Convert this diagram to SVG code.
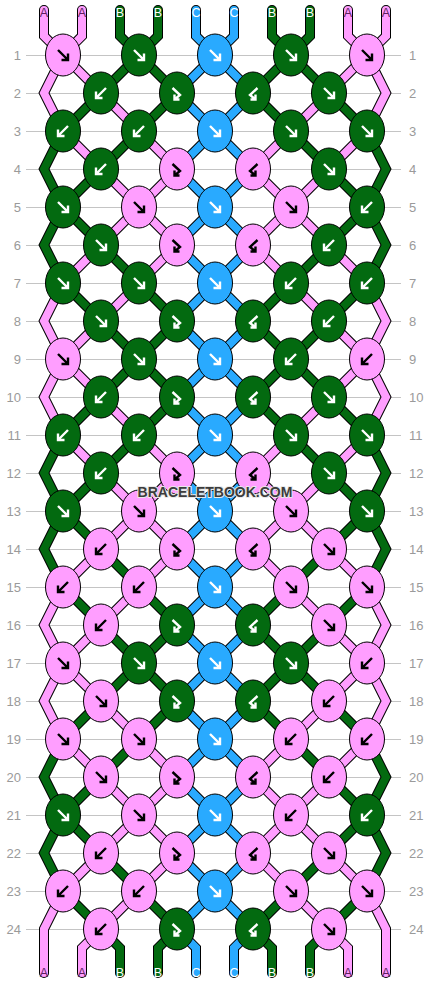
<svg xmlns="http://www.w3.org/2000/svg" xmlns:xlink="http://www.w3.org/1999/xlink" width="430" height="984" viewBox="0 0 430 984">
<style>
.grid line{stroke:#c4c4c4;stroke-width:1;shape-rendering:crispEdges}
.rl{font-family:"Liberation Sans",Arial,sans-serif;font-size:13px;fill:#9a9a9a}
.so{fill:none;stroke:#000;stroke-width:10;stroke-linejoin:miter;stroke-linecap:round}
.sA{fill:none;stroke:#ff9eff;stroke-width:8;stroke-linejoin:miter;stroke-linecap:round}
.sB{fill:none;stroke:#036a10;stroke-width:8;stroke-linejoin:miter;stroke-linecap:round}
.sC{fill:none;stroke:#29aaff;stroke-width:8;stroke-linejoin:miter;stroke-linecap:round}
.knots ellipse{stroke:#000;stroke-width:1}
.A ellipse{fill:#ff9eff}
.B ellipse{fill:#036a10}
.C ellipse{fill:#29aaff}
.A use{stroke:#000}
.B use,.C use{stroke:#fff}
.lab{font-family:"Liberation Sans",Arial,sans-serif;font-size:12.5px;text-anchor:middle}
.lA{fill:#5e1f5e}
.lB,.lC{fill:#fff}
.wm{font-family:"Liberation Sans",Arial,sans-serif;font-size:14px;font-weight:bold;text-anchor:middle;fill:#3c3c3c;stroke:#e8e8e8;stroke-width:2;paint-order:stroke;stroke-linejoin:round}
</style>
<defs>
<path id="f" d="M-5,-5 L4.5,4.5 M5,-1.5 V5 H-1.5" fill="none" stroke-width="2.4"/>
<path id="b" d="M5,-5 L-4.5,4.5 M-5,-1.5 V5 H1.5" fill="none" stroke-width="2.4"/>
<path id="fb" d="M-4.5,-5 L3,2 L-2.5,6.5 M-2.5,1.5 V6.5 H2.5" fill="none" stroke-width="2.4"/>
<path id="bf" d="M4.5,-5 L-3,2 L2.5,6.5 M2.5,1.5 V6.5 H-2.5" fill="none" stroke-width="2.4"/>
<polyline id="p1" points="44,10 44,36 63,55 101,93 139,131 177,169 139,207 101,245 63,283 44,321 63,359 101,397 139,435 177,473 139,511 101,549 63,587 44,625 63,663 101,701 139,739 177,777 139,815 101,853 63,891 44,929 44,973"/>
<polyline id="p2" points="82,10 82,36 63,55 44,93 63,131 101,169 139,207 177,245 139,283 101,321 63,359 44,397 63,435 101,473 139,511 177,549 139,587 101,625 63,663 44,701 63,739 101,777 139,815 177,853 139,891 101,929 82,948 82,973"/>
<polyline id="p3" points="120,10 120,36 139,55 177,93 139,131 101,169 63,207 44,245 63,283 101,321 139,359 177,397 139,435 101,473 63,511 44,549 63,587 101,625 139,663 177,701 139,739 101,777 63,815 44,853 63,891 101,929 120,948 120,973"/>
<polyline id="p4" points="158,10 158,36 139,55 101,93 63,131 44,169 63,207 101,245 139,283 177,321 139,359 101,397 63,435 44,473 63,511 101,549 139,587 177,625 139,663 101,701 63,739 44,777 63,815 101,853 139,891 177,929 158,948 158,973"/>
<polyline id="p5" points="196,10 196,36 215,55 253,93 215,131 177,169 215,207 253,245 215,283 177,321 215,359 253,397 215,435 177,473 215,511 253,549 215,587 177,625 215,663 253,701 215,739 177,777 215,815 253,853 215,891 177,929 196,948 196,973"/>
<polyline id="p6" points="234,10 234,36 215,55 177,93 215,131 253,169 215,207 177,245 215,283 253,321 215,359 177,397 215,435 253,473 215,511 177,549 215,587 253,625 215,663 177,701 215,739 253,777 215,815 177,853 215,891 253,929 234,948 234,973"/>
<polyline id="p7" points="272,10 272,36 291,55 329,93 367,131 386,169 367,207 329,245 291,283 253,321 291,359 329,397 367,435 386,473 367,511 329,549 291,587 253,625 291,663 329,701 367,739 386,777 367,815 329,853 291,891 253,929 272,948 272,973"/>
<polyline id="p8" points="310,10 310,36 291,55 253,93 291,131 329,169 367,207 386,245 367,283 329,321 291,359 253,397 291,435 329,473 367,511 386,549 367,587 329,625 291,663 253,701 291,739 329,777 367,815 386,853 367,891 329,929 310,948 310,973"/>
<polyline id="p9" points="348,10 348,36 367,55 386,93 367,131 329,169 291,207 253,245 291,283 329,321 367,359 386,397 367,435 329,473 291,511 253,549 291,587 329,625 367,663 386,701 367,739 329,777 291,815 253,853 291,891 329,929 348,948 348,973"/>
<polyline id="p10" points="386,10 386,36 367,55 329,93 291,131 253,169 291,207 329,245 367,283 386,321 367,359 329,397 291,435 253,473 291,511 329,549 367,587 386,625 367,663 329,701 291,739 253,777 291,815 329,853 367,891 386,929 386,973"/>
</defs>
<rect width="430" height="984" fill="#fff"/>
<g class="grid">
<line x1="26" x2="401" y1="55" y2="55"/><line x1="26" x2="401" y1="93" y2="93"/><line x1="26" x2="401" y1="131" y2="131"/><line x1="26" x2="401" y1="169" y2="169"/><line x1="26" x2="401" y1="207" y2="207"/><line x1="26" x2="401" y1="245" y2="245"/><line x1="26" x2="401" y1="283" y2="283"/><line x1="26" x2="401" y1="321" y2="321"/><line x1="26" x2="401" y1="359" y2="359"/><line x1="26" x2="401" y1="397" y2="397"/><line x1="26" x2="401" y1="435" y2="435"/><line x1="26" x2="401" y1="473" y2="473"/><line x1="26" x2="401" y1="511" y2="511"/><line x1="26" x2="401" y1="549" y2="549"/><line x1="26" x2="401" y1="587" y2="587"/><line x1="26" x2="401" y1="625" y2="625"/><line x1="26" x2="401" y1="663" y2="663"/><line x1="26" x2="401" y1="701" y2="701"/><line x1="26" x2="401" y1="739" y2="739"/><line x1="26" x2="401" y1="777" y2="777"/><line x1="26" x2="401" y1="815" y2="815"/><line x1="26" x2="401" y1="853" y2="853"/><line x1="26" x2="401" y1="891" y2="891"/><line x1="26" x2="401" y1="929" y2="929"/>
</g>
<g class="rl" id="rowlabels-left" text-anchor="end">
<text x="21" y="59.5">1</text><text x="21" y="97.5">2</text><text x="21" y="135.5">3</text><text x="21" y="173.5">4</text><text x="21" y="211.5">5</text><text x="21" y="249.5">6</text><text x="21" y="287.5">7</text><text x="21" y="325.5">8</text><text x="21" y="363.5">9</text><text x="21" y="401.5">10</text><text x="21" y="439.5">11</text><text x="21" y="477.5">12</text><text x="21" y="515.5">13</text><text x="21" y="553.5">14</text><text x="21" y="591.5">15</text><text x="21" y="629.5">16</text><text x="21" y="667.5">17</text><text x="21" y="705.5">18</text><text x="21" y="743.5">19</text><text x="21" y="781.5">20</text><text x="21" y="819.5">21</text><text x="21" y="857.5">22</text><text x="21" y="895.5">23</text><text x="21" y="933.5">24</text>
</g>
<g class="rl" id="rowlabels-right" text-anchor="start">
<text x="409" y="59.5">1</text><text x="409" y="97.5">2</text><text x="409" y="135.5">3</text><text x="409" y="173.5">4</text><text x="409" y="211.5">5</text><text x="409" y="249.5">6</text><text x="409" y="287.5">7</text><text x="409" y="325.5">8</text><text x="409" y="363.5">9</text><text x="409" y="401.5">10</text><text x="409" y="439.5">11</text><text x="409" y="477.5">12</text><text x="409" y="515.5">13</text><text x="409" y="553.5">14</text><text x="409" y="591.5">15</text><text x="409" y="629.5">16</text><text x="409" y="667.5">17</text><text x="409" y="705.5">18</text><text x="409" y="743.5">19</text><text x="409" y="781.5">20</text><text x="409" y="819.5">21</text><text x="409" y="857.5">22</text><text x="409" y="895.5">23</text><text x="409" y="933.5">24</text>
</g>
<g id="connectors">
<g id="s1"><use href="#p1" class="so"/><use href="#p1" class="sA"/></g>
<g id="s2"><use href="#p2" class="so"/><use href="#p2" class="sA"/></g>
<g id="s3"><use href="#p3" class="so"/><use href="#p3" class="sB"/></g>
<g id="s4"><use href="#p4" class="so"/><use href="#p4" class="sB"/></g>
<g id="s5"><use href="#p5" class="so"/><use href="#p5" class="sC"/></g>
<g id="s6"><use href="#p6" class="so"/><use href="#p6" class="sC"/></g>
<g id="s7"><use href="#p7" class="so"/><use href="#p7" class="sB"/></g>
<g id="s8"><use href="#p8" class="so"/><use href="#p8" class="sB"/></g>
<g id="s9"><use href="#p9" class="so"/><use href="#p9" class="sA"/></g>
<g id="s10"><use href="#p10" class="so"/><use href="#p10" class="sA"/></g>
</g>
<g class="knots">
<g id="k1-1" class="A" transform="translate(63,55)"><ellipse rx="17.5" ry="21"/><use href="#f"/></g>
<g id="k1-2" class="B" transform="translate(139,55)"><ellipse rx="17.5" ry="21"/><use href="#f"/></g>
<g id="k1-3" class="C" transform="translate(215,55)"><ellipse rx="17.5" ry="21"/><use href="#f"/></g>
<g id="k1-4" class="B" transform="translate(291,55)"><ellipse rx="17.5" ry="21"/><use href="#f"/></g>
<g id="k1-5" class="A" transform="translate(367,55)"><ellipse rx="17.5" ry="21"/><use href="#f"/></g>
<g id="k2-1" class="B" transform="translate(101,93)"><ellipse rx="17.5" ry="21"/><use href="#b"/></g>
<g id="k2-2" class="B" transform="translate(177,93)"><ellipse rx="17.5" ry="21"/><use href="#fb"/></g>
<g id="k2-3" class="B" transform="translate(253,93)"><ellipse rx="17.5" ry="21"/><use href="#bf"/></g>
<g id="k2-4" class="B" transform="translate(329,93)"><ellipse rx="17.5" ry="21"/><use href="#f"/></g>
<g id="k3-1" class="B" transform="translate(63,131)"><ellipse rx="17.5" ry="21"/><use href="#b"/></g>
<g id="k3-2" class="B" transform="translate(139,131)"><ellipse rx="17.5" ry="21"/><use href="#b"/></g>
<g id="k3-3" class="C" transform="translate(215,131)"><ellipse rx="17.5" ry="21"/><use href="#f"/></g>
<g id="k3-4" class="B" transform="translate(291,131)"><ellipse rx="17.5" ry="21"/><use href="#f"/></g>
<g id="k3-5" class="B" transform="translate(367,131)"><ellipse rx="17.5" ry="21"/><use href="#f"/></g>
<g id="k4-1" class="B" transform="translate(101,169)"><ellipse rx="17.5" ry="21"/><use href="#b"/></g>
<g id="k4-2" class="A" transform="translate(177,169)"><ellipse rx="17.5" ry="21"/><use href="#fb"/></g>
<g id="k4-3" class="A" transform="translate(253,169)"><ellipse rx="17.5" ry="21"/><use href="#bf"/></g>
<g id="k4-4" class="B" transform="translate(329,169)"><ellipse rx="17.5" ry="21"/><use href="#f"/></g>
<g id="k5-1" class="B" transform="translate(63,207)"><ellipse rx="17.5" ry="21"/><use href="#f"/></g>
<g id="k5-2" class="A" transform="translate(139,207)"><ellipse rx="17.5" ry="21"/><use href="#f"/></g>
<g id="k5-3" class="C" transform="translate(215,207)"><ellipse rx="17.5" ry="21"/><use href="#f"/></g>
<g id="k5-4" class="A" transform="translate(291,207)"><ellipse rx="17.5" ry="21"/><use href="#f"/></g>
<g id="k5-5" class="B" transform="translate(367,207)"><ellipse rx="17.5" ry="21"/><use href="#b"/></g>
<g id="k6-1" class="B" transform="translate(101,245)"><ellipse rx="17.5" ry="21"/><use href="#f"/></g>
<g id="k6-2" class="A" transform="translate(177,245)"><ellipse rx="17.5" ry="21"/><use href="#fb"/></g>
<g id="k6-3" class="A" transform="translate(253,245)"><ellipse rx="17.5" ry="21"/><use href="#bf"/></g>
<g id="k6-4" class="B" transform="translate(329,245)"><ellipse rx="17.5" ry="21"/><use href="#b"/></g>
<g id="k7-1" class="B" transform="translate(63,283)"><ellipse rx="17.5" ry="21"/><use href="#f"/></g>
<g id="k7-2" class="B" transform="translate(139,283)"><ellipse rx="17.5" ry="21"/><use href="#f"/></g>
<g id="k7-3" class="C" transform="translate(215,283)"><ellipse rx="17.5" ry="21"/><use href="#f"/></g>
<g id="k7-4" class="B" transform="translate(291,283)"><ellipse rx="17.5" ry="21"/><use href="#b"/></g>
<g id="k7-5" class="B" transform="translate(367,283)"><ellipse rx="17.5" ry="21"/><use href="#b"/></g>
<g id="k8-1" class="B" transform="translate(101,321)"><ellipse rx="17.5" ry="21"/><use href="#f"/></g>
<g id="k8-2" class="B" transform="translate(177,321)"><ellipse rx="17.5" ry="21"/><use href="#fb"/></g>
<g id="k8-3" class="B" transform="translate(253,321)"><ellipse rx="17.5" ry="21"/><use href="#bf"/></g>
<g id="k8-4" class="B" transform="translate(329,321)"><ellipse rx="17.5" ry="21"/><use href="#b"/></g>
<g id="k9-1" class="A" transform="translate(63,359)"><ellipse rx="17.5" ry="21"/><use href="#f"/></g>
<g id="k9-2" class="B" transform="translate(139,359)"><ellipse rx="17.5" ry="21"/><use href="#f"/></g>
<g id="k9-3" class="C" transform="translate(215,359)"><ellipse rx="17.5" ry="21"/><use href="#f"/></g>
<g id="k9-4" class="B" transform="translate(291,359)"><ellipse rx="17.5" ry="21"/><use href="#b"/></g>
<g id="k9-5" class="A" transform="translate(367,359)"><ellipse rx="17.5" ry="21"/><use href="#b"/></g>
<g id="k10-1" class="B" transform="translate(101,397)"><ellipse rx="17.5" ry="21"/><use href="#b"/></g>
<g id="k10-2" class="B" transform="translate(177,397)"><ellipse rx="17.5" ry="21"/><use href="#fb"/></g>
<g id="k10-3" class="B" transform="translate(253,397)"><ellipse rx="17.5" ry="21"/><use href="#bf"/></g>
<g id="k10-4" class="B" transform="translate(329,397)"><ellipse rx="17.5" ry="21"/><use href="#f"/></g>
<g id="k11-1" class="B" transform="translate(63,435)"><ellipse rx="17.5" ry="21"/><use href="#b"/></g>
<g id="k11-2" class="B" transform="translate(139,435)"><ellipse rx="17.5" ry="21"/><use href="#b"/></g>
<g id="k11-3" class="C" transform="translate(215,435)"><ellipse rx="17.5" ry="21"/><use href="#f"/></g>
<g id="k11-4" class="B" transform="translate(291,435)"><ellipse rx="17.5" ry="21"/><use href="#f"/></g>
<g id="k11-5" class="B" transform="translate(367,435)"><ellipse rx="17.5" ry="21"/><use href="#f"/></g>
<g id="k12-1" class="B" transform="translate(101,473)"><ellipse rx="17.5" ry="21"/><use href="#b"/></g>
<g id="k12-2" class="A" transform="translate(177,473)"><ellipse rx="17.5" ry="21"/><use href="#fb"/></g>
<g id="k12-3" class="A" transform="translate(253,473)"><ellipse rx="17.5" ry="21"/><use href="#bf"/></g>
<g id="k12-4" class="B" transform="translate(329,473)"><ellipse rx="17.5" ry="21"/><use href="#f"/></g>
<g id="k13-1" class="B" transform="translate(63,511)"><ellipse rx="17.5" ry="21"/><use href="#f"/></g>
<g id="k13-2" class="A" transform="translate(139,511)"><ellipse rx="17.5" ry="21"/><use href="#f"/></g>
<g id="k13-3" class="C" transform="translate(215,511)"><ellipse rx="17.5" ry="21"/><use href="#f"/></g>
<g id="k13-4" class="A" transform="translate(291,511)"><ellipse rx="17.5" ry="21"/><use href="#f"/></g>
<g id="k13-5" class="B" transform="translate(367,511)"><ellipse rx="17.5" ry="21"/><use href="#f"/></g>
<g id="k14-1" class="A" transform="translate(101,549)"><ellipse rx="17.5" ry="21"/><use href="#b"/></g>
<g id="k14-2" class="A" transform="translate(177,549)"><ellipse rx="17.5" ry="21"/><use href="#fb"/></g>
<g id="k14-3" class="A" transform="translate(253,549)"><ellipse rx="17.5" ry="21"/><use href="#bf"/></g>
<g id="k14-4" class="A" transform="translate(329,549)"><ellipse rx="17.5" ry="21"/><use href="#f"/></g>
<g id="k15-1" class="A" transform="translate(63,587)"><ellipse rx="17.5" ry="21"/><use href="#b"/></g>
<g id="k15-2" class="A" transform="translate(139,587)"><ellipse rx="17.5" ry="21"/><use href="#b"/></g>
<g id="k15-3" class="C" transform="translate(215,587)"><ellipse rx="17.5" ry="21"/><use href="#f"/></g>
<g id="k15-4" class="A" transform="translate(291,587)"><ellipse rx="17.5" ry="21"/><use href="#f"/></g>
<g id="k15-5" class="A" transform="translate(367,587)"><ellipse rx="17.5" ry="21"/><use href="#f"/></g>
<g id="k16-1" class="A" transform="translate(101,625)"><ellipse rx="17.5" ry="21"/><use href="#b"/></g>
<g id="k16-2" class="B" transform="translate(177,625)"><ellipse rx="17.5" ry="21"/><use href="#fb"/></g>
<g id="k16-3" class="B" transform="translate(253,625)"><ellipse rx="17.5" ry="21"/><use href="#bf"/></g>
<g id="k16-4" class="A" transform="translate(329,625)"><ellipse rx="17.5" ry="21"/><use href="#f"/></g>
<g id="k17-1" class="A" transform="translate(63,663)"><ellipse rx="17.5" ry="21"/><use href="#f"/></g>
<g id="k17-2" class="B" transform="translate(139,663)"><ellipse rx="17.5" ry="21"/><use href="#f"/></g>
<g id="k17-3" class="C" transform="translate(215,663)"><ellipse rx="17.5" ry="21"/><use href="#f"/></g>
<g id="k17-4" class="B" transform="translate(291,663)"><ellipse rx="17.5" ry="21"/><use href="#f"/></g>
<g id="k17-5" class="A" transform="translate(367,663)"><ellipse rx="17.5" ry="21"/><use href="#b"/></g>
<g id="k18-1" class="A" transform="translate(101,701)"><ellipse rx="17.5" ry="21"/><use href="#f"/></g>
<g id="k18-2" class="B" transform="translate(177,701)"><ellipse rx="17.5" ry="21"/><use href="#fb"/></g>
<g id="k18-3" class="B" transform="translate(253,701)"><ellipse rx="17.5" ry="21"/><use href="#bf"/></g>
<g id="k18-4" class="A" transform="translate(329,701)"><ellipse rx="17.5" ry="21"/><use href="#b"/></g>
<g id="k19-1" class="A" transform="translate(63,739)"><ellipse rx="17.5" ry="21"/><use href="#f"/></g>
<g id="k19-2" class="A" transform="translate(139,739)"><ellipse rx="17.5" ry="21"/><use href="#f"/></g>
<g id="k19-3" class="C" transform="translate(215,739)"><ellipse rx="17.5" ry="21"/><use href="#f"/></g>
<g id="k19-4" class="A" transform="translate(291,739)"><ellipse rx="17.5" ry="21"/><use href="#b"/></g>
<g id="k19-5" class="A" transform="translate(367,739)"><ellipse rx="17.5" ry="21"/><use href="#b"/></g>
<g id="k20-1" class="A" transform="translate(101,777)"><ellipse rx="17.5" ry="21"/><use href="#f"/></g>
<g id="k20-2" class="A" transform="translate(177,777)"><ellipse rx="17.5" ry="21"/><use href="#fb"/></g>
<g id="k20-3" class="A" transform="translate(253,777)"><ellipse rx="17.5" ry="21"/><use href="#bf"/></g>
<g id="k20-4" class="A" transform="translate(329,777)"><ellipse rx="17.5" ry="21"/><use href="#b"/></g>
<g id="k21-1" class="B" transform="translate(63,815)"><ellipse rx="17.5" ry="21"/><use href="#f"/></g>
<g id="k21-2" class="A" transform="translate(139,815)"><ellipse rx="17.5" ry="21"/><use href="#f"/></g>
<g id="k21-3" class="C" transform="translate(215,815)"><ellipse rx="17.5" ry="21"/><use href="#f"/></g>
<g id="k21-4" class="A" transform="translate(291,815)"><ellipse rx="17.5" ry="21"/><use href="#b"/></g>
<g id="k21-5" class="B" transform="translate(367,815)"><ellipse rx="17.5" ry="21"/><use href="#b"/></g>
<g id="k22-1" class="A" transform="translate(101,853)"><ellipse rx="17.5" ry="21"/><use href="#b"/></g>
<g id="k22-2" class="A" transform="translate(177,853)"><ellipse rx="17.5" ry="21"/><use href="#fb"/></g>
<g id="k22-3" class="A" transform="translate(253,853)"><ellipse rx="17.5" ry="21"/><use href="#bf"/></g>
<g id="k22-4" class="A" transform="translate(329,853)"><ellipse rx="17.5" ry="21"/><use href="#f"/></g>
<g id="k23-1" class="A" transform="translate(63,891)"><ellipse rx="17.5" ry="21"/><use href="#b"/></g>
<g id="k23-2" class="A" transform="translate(139,891)"><ellipse rx="17.5" ry="21"/><use href="#b"/></g>
<g id="k23-3" class="C" transform="translate(215,891)"><ellipse rx="17.5" ry="21"/><use href="#f"/></g>
<g id="k23-4" class="A" transform="translate(291,891)"><ellipse rx="17.5" ry="21"/><use href="#f"/></g>
<g id="k23-5" class="A" transform="translate(367,891)"><ellipse rx="17.5" ry="21"/><use href="#f"/></g>
<g id="k24-1" class="A" transform="translate(101,929)"><ellipse rx="17.5" ry="21"/><use href="#b"/></g>
<g id="k24-2" class="B" transform="translate(177,929)"><ellipse rx="17.5" ry="21"/><use href="#fb"/></g>
<g id="k24-3" class="B" transform="translate(253,929)"><ellipse rx="17.5" ry="21"/><use href="#bf"/></g>
<g id="k24-4" class="A" transform="translate(329,929)"><ellipse rx="17.5" ry="21"/><use href="#f"/></g>
</g>
<g id="string-labels" class="lab">
<text class="lA" x="44" y="17">A</text><text class="lA" x="82" y="17">A</text><text class="lB" x="120" y="17">B</text><text class="lB" x="158" y="17">B</text><text class="lC" x="196" y="17">C</text><text class="lC" x="234" y="17">C</text><text class="lB" x="272" y="17">B</text><text class="lB" x="310" y="17">B</text><text class="lA" x="348" y="17">A</text><text class="lA" x="386" y="17">A</text>
<text class="lA" x="44" y="977">A</text><text class="lA" x="82" y="977">A</text><text class="lB" x="120" y="977">B</text><text class="lB" x="158" y="977">B</text><text class="lC" x="196" y="977">C</text><text class="lC" x="234" y="977">C</text><text class="lB" x="272" y="977">B</text><text class="lB" x="310" y="977">B</text><text class="lA" x="348" y="977">A</text><text class="lA" x="386" y="977">A</text>
</g>
<text class="wm" x="215" y="497">BRACELETBOOK.COM</text>
</svg>
